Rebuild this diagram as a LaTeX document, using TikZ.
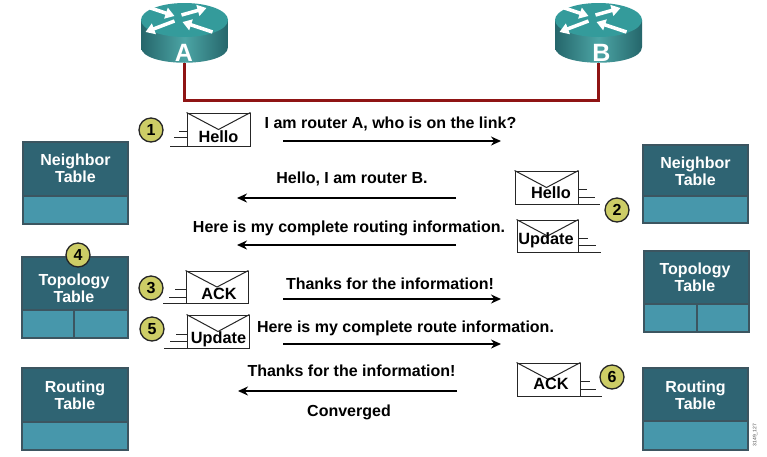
\documentclass[tikz,border=0pt]{standalone}
\usepackage{fontspec}
\setmainfont{Liberation Sans}
\usetikzlibrary{arrows.meta}
\definecolor{tdark}{HTML}{2F6473}
\definecolor{tlight}{HTML}{4797AB}
\definecolor{tedge}{HTML}{3C5560}
\definecolor{rtop}{HTML}{349B9B}
\definecolor{rdark}{HTML}{25666B}
\definecolor{rmid}{HTML}{4CA5A5}
\definecolor{linkred}{HTML}{8F1414}
\definecolor{badge}{HTML}{CDCD66}
\tikzset{
  msg/.style={font=\bfseries\fontsize{16}{18}\selectfont,inner sep=0pt,text=black},
  envtext/.style={font=\bfseries\fontsize{16.3}{18}\selectfont,inner sep=0pt,text=black},
  tabletext/.style={font=\bfseries\fontsize{16}{17}\selectfont,text=white,align=center,inner sep=0pt},
  badgenode/.style={circle,draw=black!85,line width=1.3pt,fill=badge,minimum size=24pt,inner sep=0pt,font=\bfseries\fontsize{16}{18}\selectfont},
  flow/.style={-{Stealth[length=10pt,width=9pt]},line width=1.6pt,black},
  envbox/.style={draw=black!85,line width=1pt,fill=white,inner sep=0pt},
  speed/.style={draw=black!85,line width=.9pt},
  rarrow/.style={white,line width=3.5pt,-{Triangle[length=9pt,width=11pt]}},
  tablebox/.style={draw=tedge,line width=1.2pt},
  routerlabel/.style={font=\bfseries\fontsize{25}{27}\selectfont,text=white,inner sep=0pt},
  routerhit/.style={minimum width=87pt,minimum height=60pt,inner sep=0pt},
  linkline/.style={linkred,line width=3pt},
}
% name, x1, y1, x2, y2, split y, text x, text y, text
\newcommand{\tablebox}[9]{%
  \fill[tdark] (#2,#3) rectangle (#4,#6);
  \fill[tlight] (#2,#6) rectangle (#4,#5);
  \draw[tablebox] (#2,#3) rectangle (#4,#5);
  \draw[tablebox] (#2,#6) -- (#4,#6);
  \node[tabletext] (#1) at (#7,#8) {#9};
}
% name, x1, y1, x2, y2, text x, text y, text
\newcommand{\envelope}[8]{%
  \pgfmathsetmacro{\ecx}{(#2+#4)/2}\pgfmathsetmacro{\ecy}{(#3+#5)/2}
  \pgfmathsetmacro{\ew}{#4-#2}\pgfmathsetmacro{\eh}{#5-#3}
  \node[envbox,minimum width=\ew pt,minimum height=\eh pt] (#1) at (\ecx,\ecy) {};
  \draw[draw=black!85,line width=1pt] (#1.north west) -- (#1.center) -- (#1.north east);
  \node[envtext] (#1t) at (#6,#7) {#8};
}
% router: name, centre x, letter x, letter
\newcommand{\router}[4]{%
  \begin{scope}[shift={(#2,20)}]
    \shade[left color=rdark,right color=rdark,middle color=rmid]
      (-43.5,0) -- (-43.5,27) .. controls (-43.5,48) and (43.5,48) .. (43.5,27) -- (43.5,0) -- cycle;
    \fill[rtop] (0,0) ellipse [x radius=43.5pt,y radius=17pt];
    \draw[rarrow] (-34,-12) -- (-10,-4);
    \draw[rarrow] (-3,-5) -- (22,-12);
    \draw[rarrow] (-10,1) -- (-39,12);
    \draw[rarrow] (28,12) -- (-2,2);
  \end{scope}
  \node[routerhit] (#1) at (#2,33) {};
  \node[routerlabel] (#1l) at (#3,52.5) {#4};
}
\begin{document}
\begin{tikzpicture}[x=1pt,y=-1pt]
\useasboundingbox (0,0) rectangle (767,456);
\fill[white] (0,0) rectangle (767,456);

\router{routerA}{184.5}{184}{A}
\router{routerB}{598.5}{601.5}{B}
\draw[linkline,line join=miter] (routerA.south) -- (184.5,100) -- (598.5,100) -- (routerB.south);

% tables
\tablebox{nl}{23}{142}{128}{224}{196}{75.5}{168.5}{Neighbor\\Table}
\tablebox{tl}{22}{257}{128}{338}{310}{74}{288}{Topology\\Table}
\draw[tablebox] (74,310) -- (74,338);
\tablebox{rl}{22}{368}{128}{450}{422}{75}{395}{Routing\\Table}
\tablebox{nr}{643}{145}{748}{223}{196}{695.5}{171}{Neighbor\\Table}
\tablebox{tr}{644}{251}{749}{332}{304}{695}{277}{Topology\\Table}
\draw[tablebox] (697,304) -- (697,332);
\tablebox{rr}{643}{368}{748}{450}{421}{695.5}{395}{Routing\\Table}

% envelopes
\envelope{e1}{187}{113}{250}{146}{218.5}{137}{Hello}
\draw[speed] (187,131) -- (179,131) (187,137) -- (174,137) (187,146) -- (170,146);
\envelope{e2}{515}{171}{578}{204}{551}{193}{Hello}
\draw[speed] (578,189) -- (587,189) (578,197) -- (595,197) (578,204) -- (600,204);
\envelope{e3}{517}{220}{578}{252}{546}{240.5}{Update}
\draw[speed] (578,238) -- (588,238) (578,245) -- (596,245) (578,252) -- (601,252);
\envelope{e4}{186}{271}{248}{303}{219}{294}{ACK}
\draw[speed] (186,289) -- (175,289) (186,297) -- (169,297) (186,303) -- (163,303);
\envelope{e5}{187}{315}{249}{348}{218.5}{339}{Update}
\draw[speed] (187,334) -- (176,334) (187,341) -- (170,341) (187,348) -- (164,348);
\envelope{e6}{517}{363}{580}{396}{551}{384}{ACK}
\draw[speed] (580,381) -- (590,381) (580,389) -- (596,389) (580,396) -- (602,396);

% badges
\node[badgenode] (b1) at (151,130) {1};
\node[badgenode] (b2) at (617,210) {2};
\node[badgenode] (b3) at (151,288) {3};
\node[badgenode] (b4) at (78,255) {4};
\node[badgenode] (b5) at (152,329) {5};
\node[badgenode] (b6) at (612,377) {6};

% messages
\node[msg] (m1) at (390.5,124) {I am router A, who is on the link?};
\coordinate (a1s) at (283,141); \coordinate (a1e) at (501,141);
\draw[flow] (a1s) -- (a1e);
\node[msg] (m2) at (352,179) {Hello, I am router B.};
\coordinate (a2s) at (456,198); \coordinate (a2e) at (237,198);
\draw[flow] (a2s) -- (a2e);
\node[msg] (m3) at (349,228) {Here is my complete routing information.};
\coordinate (a3s) at (456,245); \coordinate (a3e) at (237,245);
\draw[flow] (a3s) -- (a3e);
\node[msg] (m4) at (390,284) {Thanks for the information!};
\coordinate (a4s) at (283,299); \coordinate (a4e) at (501,299);
\draw[flow] (a4s) -- (a4e);
\node[msg] (m5) at (405.5,328) {Here is my complete route information.};
\coordinate (a5s) at (283,344); \coordinate (a5e) at (501,344);
\draw[flow] (a5s) -- (a5e);
\node[msg] (m6) at (351.5,371) {Thanks for the information!};
\coordinate (a6s) at (457,391); \coordinate (a6e) at (238,391);
\draw[flow] (a6s) -- (a6e);
\node[msg] (m7) at (349,412) {Converged};

\node[font=\fontsize{5}{6}\selectfont,rotate=90,inner sep=0pt,text=black!70] (code) at (755,435) {3149\_127};
\end{tikzpicture}
\end{document}
